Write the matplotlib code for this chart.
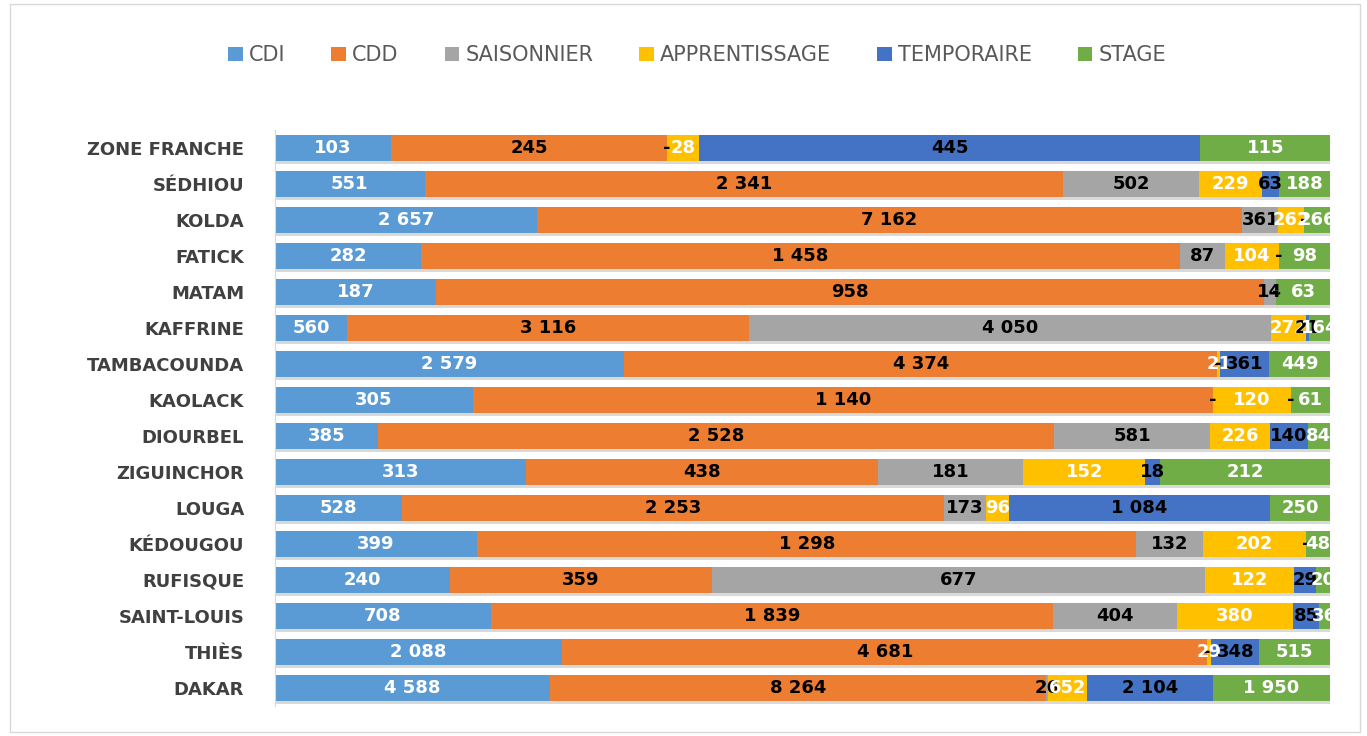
import matplotlib.pyplot as plt
import numpy as np
from matplotlib.patches import Rectangle

# regions, bottom to top
regions = ['DAKAR', 'THIÈS', 'SAINT-LOUIS', 'RUFISQUE', 'KÉDOUGOU', 'LOUGA',
           'ZIGUINCHOR', 'DIOURBEL', 'KAOLACK', 'TAMBACOUNDA', 'KAFFRINE',
           'MATAM', 'FATICK', 'KOLDA', 'SÉDHIOU', 'ZONE FRANCHE']

cdi = [4588, 2088, 708, 240, 399, 528, 313, 385, 305, 2579, 560, 187, 282, 2657, 551, 103]
cdd = [8264, 4681, 1839, 359, 1298, 2253, 438, 2528, 1140, 4374, 3116, 958, 1458, 7162, 2341, 245]
saisonnier = [26, 0, 404, 677, 132, 173, 181, 581, 0, 0, 4050, 14, 87, 361, 502, 0]
apprentissage = [652, 29, 380, 122, 202, 96, 152, 226, 120, 21, 272, 0, 104, 262, 229, 28]
temporaire = [2104, 348, 85, 29, 0, 1084, 18, 140, 0, 361, 21, 0, 0, 0, 63, 445]
stage = [1950, 515, 36, 20, 48, 250, 212, 84, 61, 449, 164, 63, 98, 266, 188, 115]

series = ['CDI', 'CDD', 'SAISONNIER', 'APPRENTISSAGE', 'TEMPORAIRE', 'STAGE']
values = [cdi, cdd, saisonnier, apprentissage, temporaire, stage]
colors = ['#5B9BD5', '#ED7D31', '#A5A5A5', '#FFC000', '#4472C4', '#70AD47']
label_colors = ['white', 'black', 'black', 'white', 'black', 'white']


def fmt(v):
    if v == 0:
        return '-'
    return f'{v:,}'.replace(',', ' ')


data = np.array(values, dtype=float)
totals = data.sum(axis=0)
shares = data / totals
y = np.arange(len(regions))

fig = plt.figure(figsize=(13.67, 7.36), dpi=100)
ax = fig.add_axes([0.201, 0.0408, 0.772, 0.7826])

# light "3D" floor under each bar
ax.barh(y - 0.08, np.ones(len(regions)), height=0.72, color='#d9d9d9', zorder=1)

left = np.zeros(len(regions))
for name, share, vals, c, lc in zip(series, shares, values, colors, label_colors):
    ax.barh(y, share, left=left, height=0.72, color=c, label=name, zorder=2)
    for i in range(len(regions)):
        ax.text(left[i] + share[i] / 2, y[i], fmt(vals[i]), ha='center', va='center',
                color=lc, fontsize=13, fontweight='bold', zorder=3)
    left += share

ax.set_xlim(0, 1.0)
ax.set_ylim(-0.5, len(regions) - 0.5)
ax.set_yticks(y)
ax.set_yticklabels(regions, fontsize=13, fontweight='bold', color='#404040')
ax.tick_params(axis='y', length=0, pad=22)
ax.set_xticks([])
for s in ['top', 'right', 'bottom']:
    ax.spines[s].set_visible(False)
ax.spines['left'].set_color('#d9d9d9')

handles, labels = ax.get_legend_handles_labels()
fig.legend(handles, labels, loc='center', bbox_to_anchor=(0.51, 0.925), ncol=6,
           frameon=False, fontsize=15, labelcolor='#595959', handlelength=0.7,
           handleheight=0.7, handletextpad=0.3, columnspacing=2.2)

fig.patches.append(Rectangle((0.007, 0.005), 0.988, 0.99, transform=fig.transFigure,
                             fill=False, edgecolor='#d9d9d9', linewidth=1))

fig.savefig('out.png', dpi=100)
